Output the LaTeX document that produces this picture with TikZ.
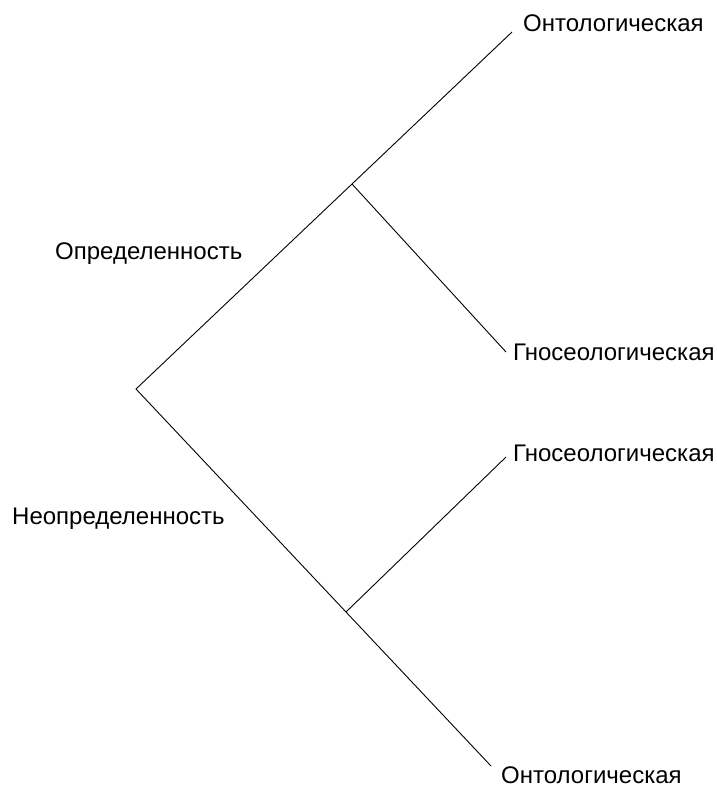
\documentclass[tikz,border=0pt]{standalone}
\usepackage{fontspec}
\setmainfont{Liberation Sans}
\begin{document}
\begin{tikzpicture}[x=1pt,y=-1pt,
  lbl/.style={inner sep=0pt,anchor=base west,font=\fontsize{24}{28}\selectfont},
  edge/.style={draw=black,line width=0.9pt}]
\useasboundingbox (0,0) rectangle (717,787);
\coordinate (root) at (136,389);
\coordinate (ub) at (352,184);
\coordinate (ut) at (512,32);
\coordinate (ug) at (506,352);
\coordinate (lb) at (346,612);
\coordinate (lg) at (506,457);
\coordinate (lo) at (491,766);
\node[lbl] (t1) at (523,31) {Онтологическая};
\node[lbl] (t2) at (513,360) {Гносеологическая};
\node[lbl] (t3) at (513,461) {Гносеологическая};
\node[lbl] (t4) at (501,783) {Онтологическая};
\node[lbl] (d1) at (55,259) {Определенность};
\node[lbl] (d2) at (12,524) {Неопределенность};
\draw[edge] (ut) -- (ub) -- (root) -- (lb) -- (lo);
\draw[edge] (ub) -- (ug);
\draw[edge] (lb) -- (lg);
\end{tikzpicture}
\end{document}
